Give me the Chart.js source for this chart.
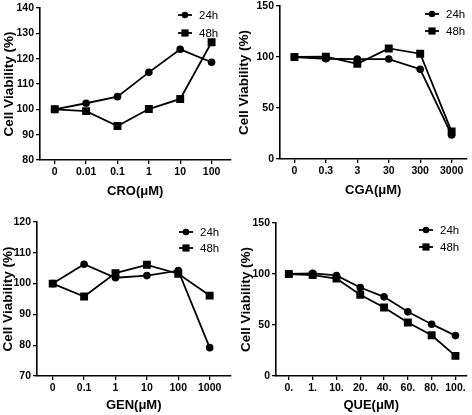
<!DOCTYPE html>
<html>
<head>
<meta charset="utf-8">
<script src="https://cdn.jsdelivr.net/npm/chart.js@4"></script>
<style>
  html, body { margin: 0; padding: 0; background: #fff; }
  body { position: relative; width: 472px; height: 415px; overflow: hidden; }
  canvas { position: absolute; }
</style>
</head>
<body>
<canvas id="cro" width="236" height="205" style="left:0;top:0"></canvas>
<canvas id="cga" width="236" height="205" style="left:236px;top:0"></canvas>
<canvas id="gen" width="236" height="210" style="left:0;top:205px"></canvas>
<canvas id="que" width="236" height="210" style="left:236px;top:205px"></canvas>
<script>
// Data
const seriesNames = ['24h', '48h'];

const croLabels = ['0', '0.01', '0.1', '1', '10', '100'];
const cro24 = [100, 102.4, 105, 114.6, 123.7, 118.6];
const cro48 = [100, 99.3, 93.4, 100.1, 104.1, 126.5];
const croTicks = [80, 140, 10];

const cgaLabels = ['0', '0.3', '3', '30', '300', '3000'];
const cga24 = [100, 98.3, 98, 98, 88, 23.6];
const cga48 = [100, 100.3, 93.3, 108.4, 103.2, 26.9];
const cgaTicks = [0, 150, 50];

const genLabels = ['0', '0.1', '1', '10', '100', '1000'];
const gen24 = [100, 106.3, 101.9, 102.6, 104.2, 79.2];
const gen48 = [100, 95.8, 103.4, 106.1, 103.2, 96.1];
const genTicks = [70, 120, 10];

const queLabels = ['0.', '1.', '10.', '20.', '40.', '60.', '80.', '100.'];
const que24 = [100, 100.6, 98.6, 86.8, 77.6, 62.9, 50.8, 39.6];
const que48 = [100, 98.9, 95.6, 79.6, 67.1, 52.4, 40, 19.7];
const queTicks = [0, 150, 50];

const NARROW = '"Liberation Sans Narrow", "Arial Narrow", "Liberation Sans", Arial, sans-serif';
const WIDE = '"Liberation Sans", Arial, sans-serif';

// legend drawn by hand: line + marker + label, like the original figure
const lineLegend = {
  id: 'lineLegend',
  afterDraw(chart, args, opts) {
    const ctx = chart.ctx;
    ctx.save();
    chart.data.datasets.forEach((ds, i) => {
      const y = opts.y[i];
      ctx.strokeStyle = '#000';
      ctx.lineWidth = 1.8;
      ctx.beginPath();
      ctx.moveTo(opts.x - 7, y);
      ctx.lineTo(opts.x + 7, y);
      ctx.stroke();
      ctx.fillStyle = '#000';
      Chart.helpers.drawPoint(ctx, { pointStyle: ds.pointStyle, radius: ds.pointRadius - 0.5, borderWidth: 0 }, opts.x, y);
      ctx.font = '11.5px ' + NARROW;
      ctx.textBaseline = 'middle';
      ctx.textAlign = 'left';
      ctx.fillText(ds.label, opts.textX, y + 0.5);
    });
    ctx.restore();
  }
};

function panel(id, labels, s24, s48, yTicks, xTitle, g) {
  const W = g.w, H = g.h;
  return new Chart(document.getElementById(id), {
    type: 'line',
    data: {
      datasets: [
        { label: seriesNames[0], data: s24.map((y, i) => ({ x: i, y })), pointStyle: 'circle', pointRadius: 3.8 },
        { label: seriesNames[1], data: s48.map((y, i) => ({ x: i, y })), pointStyle: 'rect', pointRadius: 5.6 },
      ].map(ds => ({
        borderColor: '#000', backgroundColor: '#000', pointBackgroundColor: '#000',
        pointBorderWidth: 0, borderWidth: 1.8, tension: 0, ...ds,
      })),
    },
    options: {
      responsive: false,
      animation: false,
      events: [],
      layout: { padding: { left: 0, top: g.top, right: W - g.right, bottom: 0 } },
      plugins: {
        legend: { display: false },
        tooltip: { enabled: false },
        lineLegend: g.legend,
      },
      scales: {
        x: {
          type: 'linear',
          min: g.xMin, max: g.xMax,
          afterBuildTicks: s => { s.ticks = labels.map((_, i) => ({ value: i })); },
          afterFit: s => { s.height = H - g.bottom; s.paddingLeft = 0; s.paddingRight = 0; },
          ticks: {
            callback: v => labels[v], autoSkip: false, maxRotation: 0, padding: 2,
            color: '#000', font: { family: NARROW, size: 10.5, weight: 'bold' },
          },
          grid: { drawOnChartArea: false, drawTicks: true, tickLength: 4, color: '#000', lineWidth: 1.3 },
          border: { color: '#000', width: 1.6 },
          title: {
            display: true, text: xTitle, color: '#000',
            font: { family: NARROW, size: 13, weight: 'bold' },
            padding: { top: 0, bottom: g.xTitlePad },
          },
        },
        y: {
          min: yTicks[0], max: yTicks[1],
          ticks: {
            stepSize: yTicks[2], padding: 2, color: '#000',
            font: { family: NARROW, size: 10.5, weight: 'bold' },
          },
          afterFit: s => { s.width = g.left; s.paddingTop = 0; s.paddingBottom = 0; },
          grid: { drawOnChartArea: false, drawTicks: true, tickLength: 4, color: '#000', lineWidth: 1.3 },
          border: { color: '#000', width: 1.6 },
          title: {
            display: true, text: 'Cell Viability (%)', color: '#000',
            font: { family: WIDE, size: 13.5, weight: 'bold' },
            padding: { top: g.yTitlePad, bottom: 0 },
          },
        },
      },
    },
    plugins: [lineLegend],
  });
}

panel('cro', croLabels, cro24, cro48, croTicks, 'CRO(μM)', {
  w: 236, h: 205, left: 40, right: 233, top: 8, bottom: 160, xMin: -0.47, xMax: 5.6,
  xTitlePad: 6, yTitlePad: 1, legend: { x: 185, textX: 199, y: [15, 33] },
});
panel('cga', cgaLabels, cga24, cga48, cgaTicks, 'CGA(μM)', {
  w: 236, h: 205, left: 44, right: 233, top: 6, bottom: 159, xMin: -0.46, xMax: 5.47,
  xTitlePad: 7, yTitlePad: 0, legend: { x: 196, textX: 210, y: [14, 31] },
});
panel('gen', genLabels, gen24, gen48, genTicks, 'GEN(μM)', {
  w: 236, h: 210, left: 37, right: 233, top: 17, bottom: 171, xMin: -0.5, xMax: 5.66,
  xTitlePad: 2, yTitlePad: 0, legend: { x: 186, textX: 200, y: [27, 43] },
});
panel('que', queLabels, que24, que48, queTicks, 'QUE(μM)', {
  w: 236, h: 210, left: 40, right: 233, top: 18, bottom: 171, xMin: -0.54, xMax: 7.46,
  xTitlePad: 2, yTitlePad: 2, legend: { x: 190, textX: 204, y: [25, 42] },
});
</script>
</body>
</html>
